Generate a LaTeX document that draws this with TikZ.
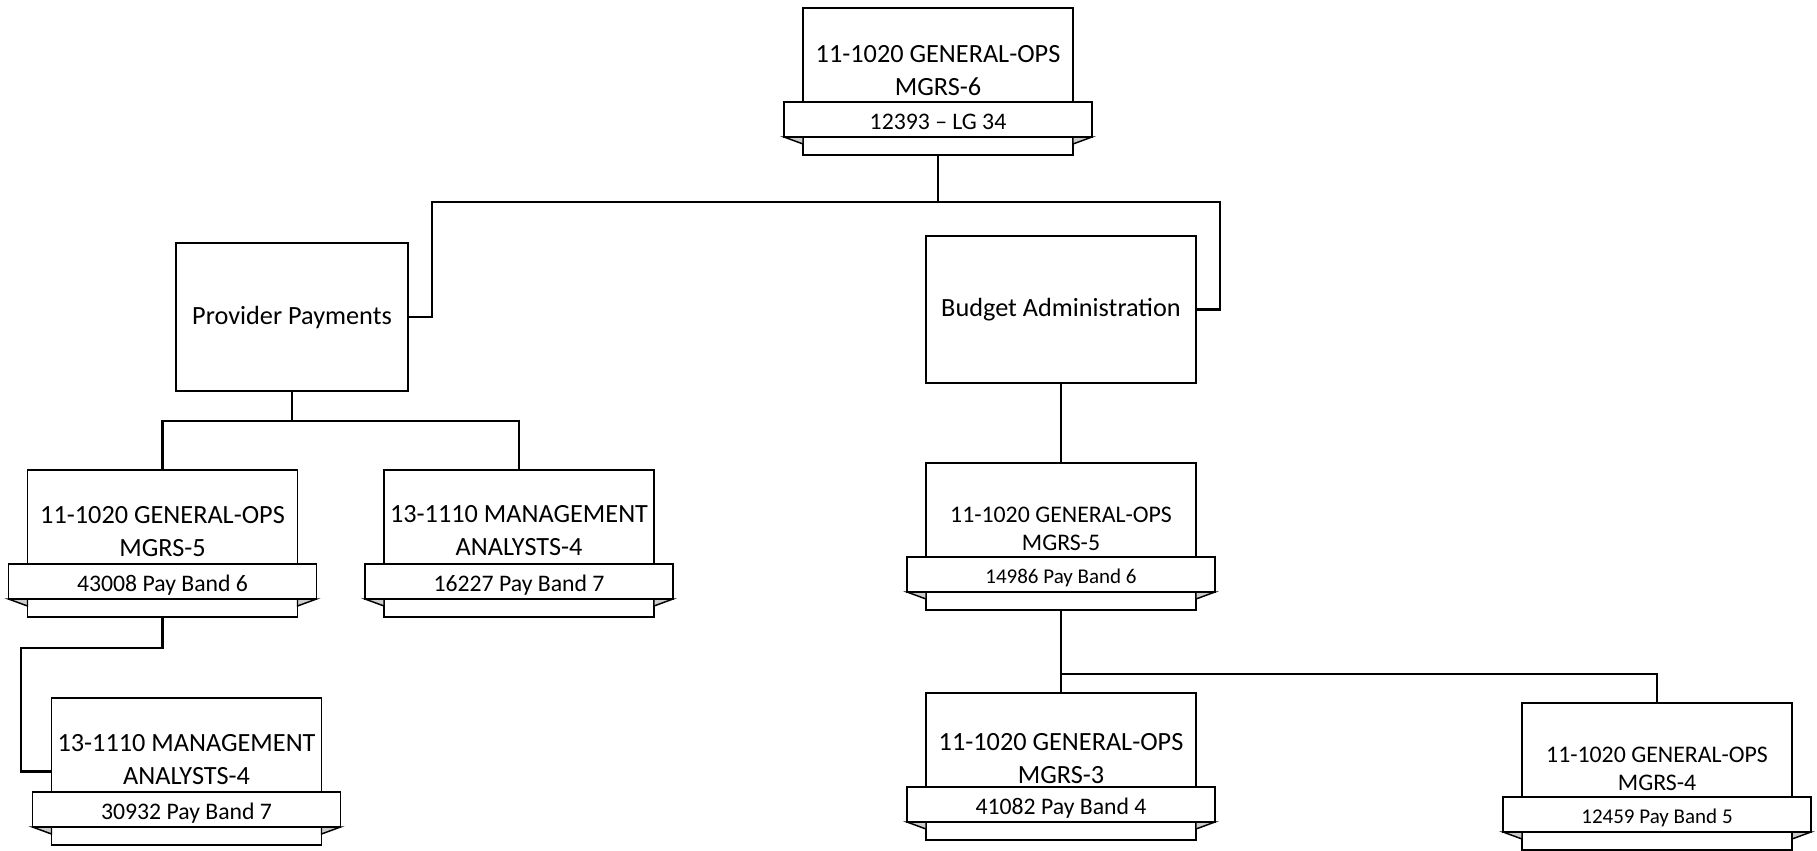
\documentclass[tikz,border=0pt]{standalone}
\usepackage{fontspec}
\setmainfont{Carlito}
\newcommand{\bigf}{\fontsize{19.7}{24.7}\selectfont}
\newcommand{\smallf}{\fontsize{17.85}{21}\selectfont}
\newcommand{\bandbig}{\fontsize{17.8}{21}\selectfont}
\newcommand{\bandsmall}{\fontsize{15.75}{19}\selectfont}
\tikzset{
  cardbox/.style={draw, fill=white, line width=1.3pt, minimum width=202.5pt, minimum height=110.25pt, inner sep=0pt},
  bannerbox/.style={draw, fill=white, line width=1.3pt, minimum width=231pt, minimum height=26.25pt, inner sep=0pt},
  fold/.style={fill=gray!40, draw=black, line width=1.1pt, line join=miter},
  unitbox/.style={draw, fill=white, line width=1.3pt, inner sep=0pt, font=\bigf},
  conn/.style={line width=1.8pt, line join=miter}
}
% #1 name, #2 cx, #3 top, #4 text, #5 banner text, #6 font, #7 banner font, #8 text offset, #9 banner baseline offset
\newcommand{\card}[9]{%
  \node[cardbox] (#1) at (#2,#3+73.5) {};
  \filldraw[fold] (#2-154,#3+129) -- (#2-135,#3+129) -- (#2-135,#3+136) -- cycle;
  \filldraw[fold] (#2+154,#3+129) -- (#2+135,#3+129) -- (#2+135,#3+136) -- cycle;
  \node[bannerbox] (#1-band) at (#2,#3+111.5) {};
  \node[anchor=center, align=center, inner sep=0pt, font=#6] (#1-txt) at (#2,#3+#8) {#4};
  \node[anchor=base, inner sep=0pt, font=#7] (#1-btxt) at (#2,#3+94+#9) {#5};
}
\begin{document}
\begin{tikzpicture}[x=0.75pt, y=-0.75pt]
\useasboundingbox (0,0) rectangle (1817,850);

% cards
\card{top}{938}{8}{11-1020 GENERAL-OPS\\MGRS-6}{12393 -- LG 34}{\bigf}{\bandbig}{63}{27}
\card{a}{162.5}{470}{11-1020 GENERAL-OPS\\MGRS-5}{43008 Pay Band 6}{\bigf}{\bandbig}{62}{27}
\card{b}{519}{470}{13-1110 MANAGEMENT\\ANALYSTS-4}{16227 Pay Band 7}{\bigf}{\bandbig}{61}{27}
\card{c}{186.5}{698}{13-1110 MANAGEMENT\\ANALYSTS-4}{30932 Pay Band 7}{\bigf}{\bandbig}{62}{27}
\card{d}{1061}{463}{11-1020 GENERAL-OPS\\MGRS-5}{14986 Pay Band 6}{\smallf}{\bandsmall}{66}{26}
\card{e}{1061}{693}{11-1020 GENERAL-OPS\\MGRS-3}{41082 Pay Band 4}{\bigf}{\bandbig}{66}{27}
\card{f}{1657}{703}{11-1020 GENERAL-OPS\\MGRS-4}{12459 Pay Band 5}{\smallf}{\bandsmall}{66}{26}

% units
\node[unitbox, minimum width=174pt, minimum height=111pt] (pp) at (292,317) {Provider Payments};
\node[unitbox, minimum width=202.5pt, minimum height=110.25pt] (ba) at (1061,309.5) {Budget Administration};

% junction coordinates
\coordinate (busL) at (432,202);
\coordinate (busR) at (1220,202);
\coordinate (j2) at (292,421);
\coordinate (j3) at (21,648);
\coordinate (j4) at (1061,674);

% connectors
\draw[conn] (top.south) |- (busL) |- (pp.east);
\draw[conn] (top.south) |- (busR) |- (ba.east);
\draw[conn] (pp.south) -- (j2);
\draw[conn] (a.north) |- (j2) -| (b.north);
\draw[conn] (a.south) |- (j3) |- (c.west);
\draw[conn] (ba.south) -- (d.north);
\draw[conn] (d.south) -- (e.north);
\draw[conn] (j4) -| (f.north);
\end{tikzpicture}
\end{document}
